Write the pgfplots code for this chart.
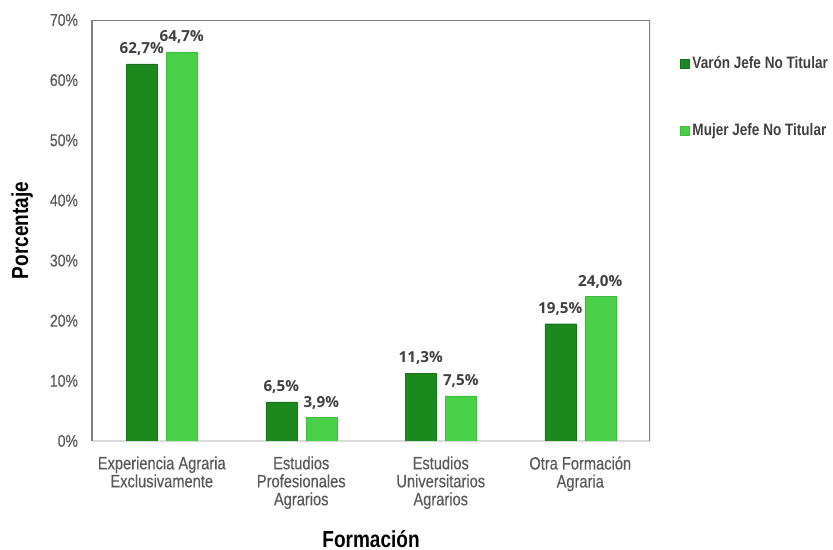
\documentclass[border=0pt]{standalone}
\usepackage{pgfplots}
\pgfplotsset{compat=1.18}
\usepackage{fontspec}
\setmainfont{Liberation Sans}[FakeStretch=0.82, UprightFeatures={FakeBold=0.35}]
\newfontfamily\valfont{Open Sans}

\definecolor{varon}{RGB}{28,137,30}
\definecolor{mujer}{RGB}{72,208,72}
\definecolor{ticktxt}{RGB}{89,89,89}
\definecolor{valtxt}{RGB}{64,64,64}
\definecolor{frame}{RGB}{128,128,128}
\definecolor{baseline}{RGB}{217,217,217}

\begin{document}
\begin{tikzpicture}
\useasboundingbox (0,0) rectangle (624.75pt,412.5pt);
\begin{axis}[
  at={(69pt,81.75pt)}, anchor=south west,
  scale only axis, width=418.5pt, height=315.75pt,
  ymin=0, ymax=70, xmin=-0.5, xmax=3.5,
  ybar=6.75pt, bar width=23.25pt,
  axis x line*=bottom, axis y line*=left,
  x axis line style={draw=baseline, line width=0.9pt},
  y axis line style={draw=frame, line width=0.9pt},
  major tick length=0pt,
  ytick={0,10,...,70},
  yticklabel={\pgfmathprintnumber{\tick}\%},
  /pgf/number format/assume math mode=true,
  yticklabel style={font=\fontsize{12.8pt}{14pt}\selectfont, color=ticktxt, xshift=-7pt},
  xtick={0,1,2,3},
  xticklabels={{Experiencia Agraria\\Exclusivamente},{Estudios\\Profesionales\\Agrarios},{Estudios\\Universitarios\\Agrarios},{Otra Formación\\Agraria}},
  xticklabel style={font=\fontsize{13.4pt}{13.5pt}\selectfont, color=ticktxt, align=center, anchor=north, yshift=-8pt},
  xlabel={Formación},
  ylabel={Porcentaje},
  every axis x label/.append style={at={(axis description cs:0.5,-0.232)}, anchor=center, font=\fontsize{17.4pt}{20pt}\selectfont\bfseries},
  every axis y label/.append style={at={(axis description cs:-0.1254,0.5)}, anchor=center, font=\fontsize{17.4pt}{20pt}\selectfont\bfseries},
  nodes near coords={\pgfmathprintnumber[fixed,fixed zerofill,precision=1,use comma]{\pgfplotspointmeta}\%},
  nodes near coords style={font=\valfont\bfseries\fontsize{11.4pt}{13pt}\selectfont, color=valtxt, inner sep=3pt, yshift=3pt},
  legend style={at={(axis description cs:1.054,0.921)}, anchor=north west, draw=none, fill=none,
    font=\fontsize{12.4pt}{14pt}\selectfont\bfseries, text=valtxt, row sep=36pt, inner sep=0pt,
    nodes={inner sep=2pt}},
  legend cell align=left,
  legend image code/.code={\fill[#1] (0pt,-3.4pt) rectangle (6.75pt,3.4pt);},
]
\addplot[fill=varon, draw=varon!85!black, line width=0.3pt] coordinates {(0,62.7) (1,6.5) (2,11.3) (3,19.5)};
\addlegendentry{Varón Jefe No Titular}
\addplot[fill=mujer, draw=mujer!90!black, line width=0.3pt] coordinates {(0,64.7) (1,3.9) (2,7.5) (3,24.0)};
\addlegendentry{Mujer Jefe No Titular}
\draw[frame, line width=0.9pt] (rel axis cs:0,1) -- (rel axis cs:1,1) -- (rel axis cs:1,0);
\end{axis}
\end{tikzpicture}
\end{document}
